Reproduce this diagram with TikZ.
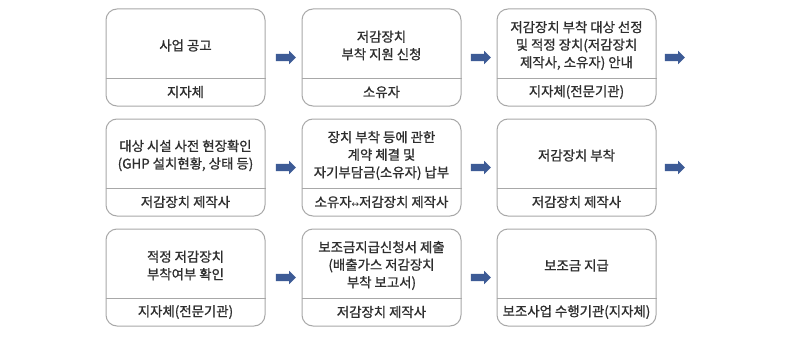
\documentclass[tikz,border=0pt]{standalone}
\usepackage{fontspec}
\setmainfont{Noto Sans CJK KR}[FakeBold=1.0]
\newfontfamily\symfont{DejaVu Sans}
\usetikzlibrary{shapes.arrows}
\definecolor{boxline}{HTML}{A8A8A8}
\definecolor{txt}{HTML}{2E2E2E}
\definecolor{arrowc}{HTML}{3D5B96}
\tikzset{
 stepbox/.style={draw=boxline, line width=1pt, rounded corners=11pt, minimum width=159pt, minimum height=97pt, inner sep=0pt},
 divider/.style={draw=boxline, line width=1pt},
 maintext/.style={align=center, font=\fontsize{13.4}{17.6}\selectfont, text=txt, inner sep=0pt},
 roletext/.style={font=\fontsize{13.4}{14}\selectfont, text=txt, inner sep=0pt},
 blockarrow/.style={single arrow, fill=arrowc, draw=none, minimum height=20pt, minimum width=13pt, single arrow head extend=3pt, inner sep=3.5pt},
}
\newcommand\flowbox[5]{%
 \node[stepbox] (#1) at (#2,#3) {};
 \draw[divider] ([yshift=28pt]#1.south west) -- ([yshift=28pt]#1.south east);
 \node[maintext] (#1m) at ([yshift=12pt]#1.center) {#4};
 \node[roletext] (#1r) at ([yshift=14.5pt]#1.south) {#5};
}
\begin{document}
\begin{tikzpicture}[x=1pt,y=1pt]
\useasboundingbox (0,0) rectangle (800,341);
\fill[white] (0,0) rectangle (800,341);
% row 1
\flowbox{b1}{185.5}{283.5}{사업 공고}{지자체}
\flowbox{b2}{381.5}{283.5}{저감장치\\부착 지원 신청}{소유자}
\flowbox{b3}{576.5}{283.5}{저감장치 부착 대상 선정\\및 적정 장치(저감장치\\제작사, 소유자) 안내}{지자체(전문기관)}
% row 2
\flowbox{b4}{185.5}{173.5}{대상 시설 사전 현장확인\\(GHP 설치현황, 상태 등)}{저감장치 제작사}
\flowbox{b5}{381.5}{173.5}{장치 부착 등에 관한\\계약 체결 및\\자기부담금(소유자) 납부}{소유자{\symfont\fontsize{9}{10}\selectfont↔}저감장치 제작사}
\flowbox{b6}{576.5}{173.5}{저감장치 부착}{저감장치 제작사}
% row 3
\flowbox{b7}{185.5}{63.5}{적정 저감장치\\부착여부 확인}{지자체(전문기관)}
\flowbox{b8}{381.5}{63.5}{보조금지급신청서 제출\\(배출가스 저감장치\\부착 보고서)}{저감장치 제작사}
\flowbox{b9}{576.5}{63.5}{보조금 지급}{보조사업 수행기관(지자체)}
% arrows
\node[blockarrow] (a1) at (284,283.5) {};
\node[blockarrow] (a2) at (479,283.5) {};
\node[blockarrow] (a3) at (673,283.5) {};
\node[blockarrow] (a4) at (284,173.5) {};
\node[blockarrow] (a5) at (479,173.5) {};
\node[blockarrow] (a6) at (673,173.5) {};
\node[blockarrow] (a7) at (284,63.5) {};
\node[blockarrow] (a8) at (479,63.5) {};
\end{tikzpicture}
\end{document}
